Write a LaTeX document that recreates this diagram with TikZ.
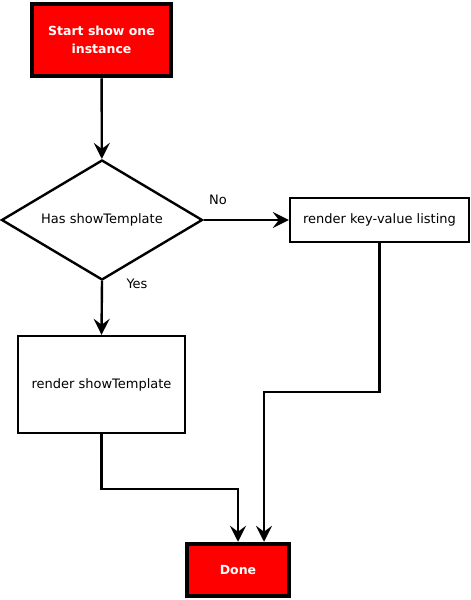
\documentclass[tikz,border=0pt]{standalone}
\usepackage{fontspec}
\setmainfont{DejaVu Sans}
\usetikzlibrary{shapes.geometric,arrows.meta}
\begin{document}
\begin{tikzpicture}[x=1pt,y=-1pt,
  startbox/.style={draw=black,fill=red,line width=4.5pt,text=white,font=\fontsize{12.5}{17.5}\selectfont\bfseries,align=center,inner sep=0pt},
  procbox/.style={draw=black,line width=2.4pt,font=\fontsize{13}{16}\selectfont,align=center,inner sep=0pt},
  decbox/.style={draw=black,line width=2.4pt,diamond,aspect=1.675,font=\fontsize{13}{16}\selectfont,inner sep=0pt},
  conn/.style={line width=2.4pt,-{Stealth[length=16pt,width=16pt,inset=6pt]}},
  lbl/.style={font=\fontsize{13}{16}\selectfont,inner sep=0pt}]
\useasboundingbox (0,0) rectangle (471,600);
\node[startbox,minimum width=139pt,minimum height=72pt] (start) at (101.5,40) {Start show one\\instance};
\node[decbox,minimum width=201pt,minimum height=120pt] (dec) at (102,220) {Has showTemplate};
\node[procbox,minimum width=179pt,minimum height=44pt] (kv) at (379.5,220) {render key-value listing};
\node[procbox,minimum width=167pt,minimum height=97pt] (st) at (101.5,384.5) {render showTemplate};
\node[startbox,minimum width=102pt,minimum height=52pt] (done) at (238,570) {Done};
\coordinate (j1) at (238,489);
\coordinate (j2) at (264,392);
\draw[conn] (start) -- (dec);
\draw[conn] (dec.east) -- (kv.west);
\draw[conn] (dec.south) -- (st.north);
\draw[conn] (st.south) |- (j1) -- (j1 |- done.north);
\draw[conn] (kv.south) |- (j2) -- (j2 |- done.north);
\node[lbl] (no) at (218,200) {No};
\node[lbl] (yes) at (137,284) {Yes};
\end{tikzpicture}
\end{document}
